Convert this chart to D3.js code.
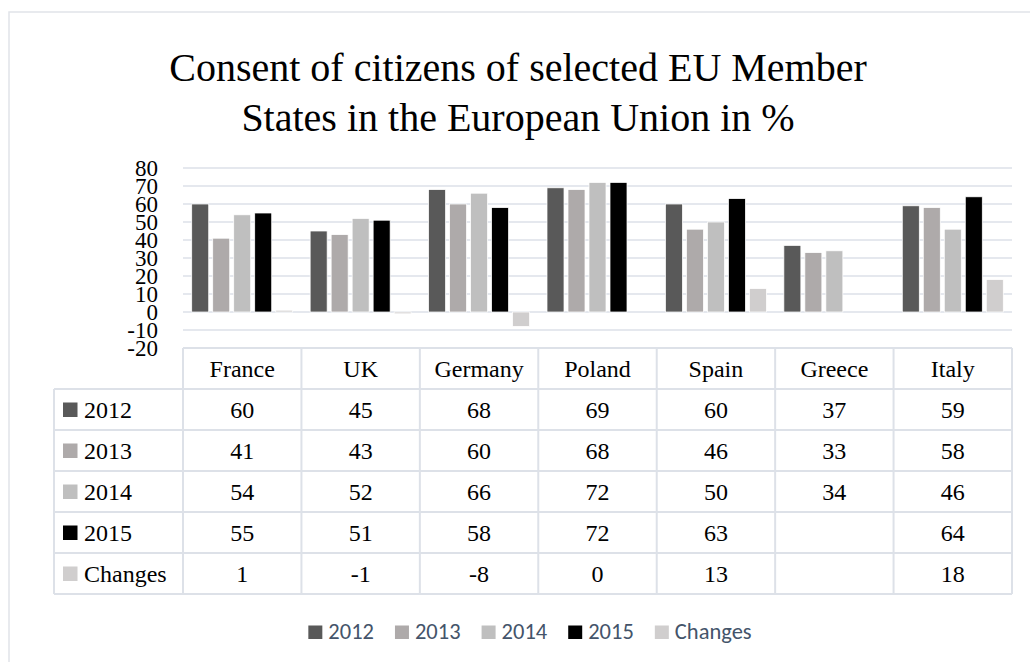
<!DOCTYPE html>
<html>
<head>
<meta charset="utf-8">
<script src="https://cdn.jsdelivr.net/npm/d3@7"></script>
<style>
  html, body { margin: 0; padding: 0; background: #fff; }
  svg { display: block; }
</style>
</head>
<body>
<svg id="chart" width="1030" height="662"></svg>
<script>
// ---- data ----
const categories = ["France", "UK", "Germany", "Poland", "Spain", "Greece", "Italy"];
const seriesNames = ["2012", "2013", "2014", "2015", "Changes"];
const values2012 = [60, 45, 68, 69, 60, 37, 59];
const values2013 = [41, 43, 60, 68, 46, 33, 58];
const values2014 = [54, 52, 66, 72, 50, 34, 46];
const values2015 = [55, 51, 58, 72, 63, null, 64];
const valuesChanges = [1, -1, -8, 0, 13, null, 18];
const yTicks = [-20, -10, 0, 10, 20, 30, 40, 50, 60, 70, 80];
const titleLines = ["Consent of citizens of selected EU Member", "States in the European Union in %"];
const seriesColors = ["#595959", "#aeaaaa", "#bfbfbf", "#000000", "#d0cece"];

const seriesValues = [values2012, values2013, values2014, values2015, valuesChanges];

// ---- layout ----
const svg = d3.select("#chart");
const plotLeft = 183, plotRight = 1012;
const yTop = 168, yBottom = 348;
const rowH = 41;
const legendColLeft = 54;
const serif = "'Palatino Linotype', 'Book Antiqua', Palatino, 'Liberation Serif', serif";
const gridColor = "#dde1e8";

// outer frame
svg.append("rect").attr("x", 9).attr("y", 12).attr("width", 1100).attr("height", 700)
  .attr("fill", "none").attr("stroke", "#e1e4e9").attr("stroke-width", 1.5);

// title
svg.append("g").selectAll("text").data(titleLines).join("text")
  .attr("x", 518).attr("y", (d, i) => 81 + i * 50)
  .attr("text-anchor", "middle")
  .attr("font-family", serif).attr("font-size", 40).attr("fill", "#000")
  .text(d => d);

// scales
const x0 = d3.scaleBand().domain(categories).range([plotLeft, plotRight]).padding(0);
const x1 = d3.scaleBand().domain(seriesNames).range([0, x0.bandwidth()])
  .paddingInner(0.19).paddingOuter(0.415);
const y = d3.scaleLinear().domain([-20, 80]).range([yBottom, yTop]);
const color = d3.scaleOrdinal().domain(seriesNames).range(seriesColors);

// gridlines (except -20, which is the table top border)
svg.append("g").selectAll("line").data(yTicks.filter(t => t !== -20)).join("line")
  .attr("x1", plotLeft).attr("x2", plotRight)
  .attr("y1", d => y(d)).attr("y2", d => y(d))
  .attr("stroke", gridColor).attr("stroke-width", 1.5);

// y axis labels via d3 axis (plain hyphen minus, as in the reference)
const yAxis = d3.axisLeft(y).tickValues(yTicks).tickSize(0).tickPadding(0)
  .tickFormat(d => String(d));
const yg = svg.append("g").attr("transform", "translate(158,0)").call(yAxis);
yg.select(".domain").remove();
yg.selectAll("text").attr("font-family", serif).attr("font-size", 23).attr("fill", "#000")
  .attr("dy", "0.33em");

// bars
const barData = [];
categories.forEach((c, ci) => {
  seriesNames.forEach((s, si) => {
    const v = seriesValues[si][ci];
    if (v !== null && v !== undefined) barData.push({ c, s, v });
  });
});
svg.append("g").selectAll("rect").data(barData).join("rect")
  .attr("x", d => x0(d.c) + x1(d.s))
  .attr("width", x1.bandwidth())
  .attr("y", d => Math.min(y(d.v), y(0)))
  .attr("height", d => Math.abs(y(d.v) - y(0)))
  .attr("fill", d => color(d.s))
  .attr("stroke", "#fff").attr("stroke-width", 0.75);

// ---- data table ----
const table = svg.append("g");
const tTop = yBottom;
const nRows = seriesNames.length;
const tBottom = tTop + rowH * (nRows + 1);
const lineAttrs = sel => sel.attr("stroke", gridColor).attr("stroke-width", 2).attr("fill", "none");

// horizontal lines
table.append("line").attr("x1", plotLeft).attr("x2", plotRight).attr("y1", tTop).attr("y2", tTop).call(lineAttrs);
for (let r = 1; r <= nRows + 1; r++) {
  const yy = tTop + r * rowH;
  table.append("line").attr("x1", legendColLeft).attr("x2", plotRight).attr("y1", yy).attr("y2", yy).call(lineAttrs);
}
// vertical lines
table.append("line").attr("x1", legendColLeft).attr("x2", legendColLeft)
  .attr("y1", tTop + rowH).attr("y2", tBottom).call(lineAttrs);
categories.forEach(c => {
  table.append("line").attr("x1", x0(c)).attr("x2", x0(c)).attr("y1", tTop).attr("y2", tBottom).call(lineAttrs);
});
table.append("line").attr("x1", plotRight).attr("x2", plotRight).attr("y1", tTop).attr("y2", tBottom).call(lineAttrs);

// header
table.selectAll("text.hdr").data(categories).join("text").attr("class", "hdr")
  .attr("x", d => x0(d) + x0.bandwidth() / 2)
  .attr("y", tTop + rowH / 2 + 8)
  .attr("text-anchor", "middle")
  .attr("font-family", serif).attr("font-size", 24).attr("fill", "#000")
  .text(d => d);

// rows
seriesNames.forEach((s, si) => {
  const cy = tTop + rowH * (si + 1) + rowH / 2;
  table.append("rect").attr("x", 63).attr("y", cy - 7).attr("width", 14.5).attr("height", 14.5)
    .attr("fill", color(s));
  table.append("text").attr("x", 84).attr("y", cy + 8)
    .attr("font-family", serif).attr("font-size", 24).attr("fill", "#000").text(s);
  categories.forEach((c, ci) => {
    const v = seriesValues[si][ci];
    if (v === null || v === undefined) return;
    table.append("text")
      .attr("x", x0(c) + x0.bandwidth() / 2).attr("y", cy + 8)
      .attr("text-anchor", "middle")
      .attr("font-family", serif).attr("font-size", 24).attr("fill", "#000")
      .text(v);
  });
});

// ---- bottom legend ----
const legend = svg.append("g");
let lx = 0;
seriesNames.forEach(s => {
  const g = legend.append("g");
  g.append("rect").attr("x", 0).attr("y", -13.5).attr("width", 14).attr("height", 13.5).attr("fill", color(s));
  const t = g.append("text").attr("x", 20).attr("y", 0)
    .attr("font-family", "Carlito, Calibri, Lato, sans-serif").attr("font-size", 22.5).attr("fill", "#44546a").text(s);
  const w = t.node().getComputedTextLength();
  g.attr("transform", `translate(${lx},639)`);
  lx += 20 + w + 21;
});
const totalW = lx - 21;
legend.attr("transform", `translate(${530 - totalW / 2},0)`);
</script>
</body>
</html>
